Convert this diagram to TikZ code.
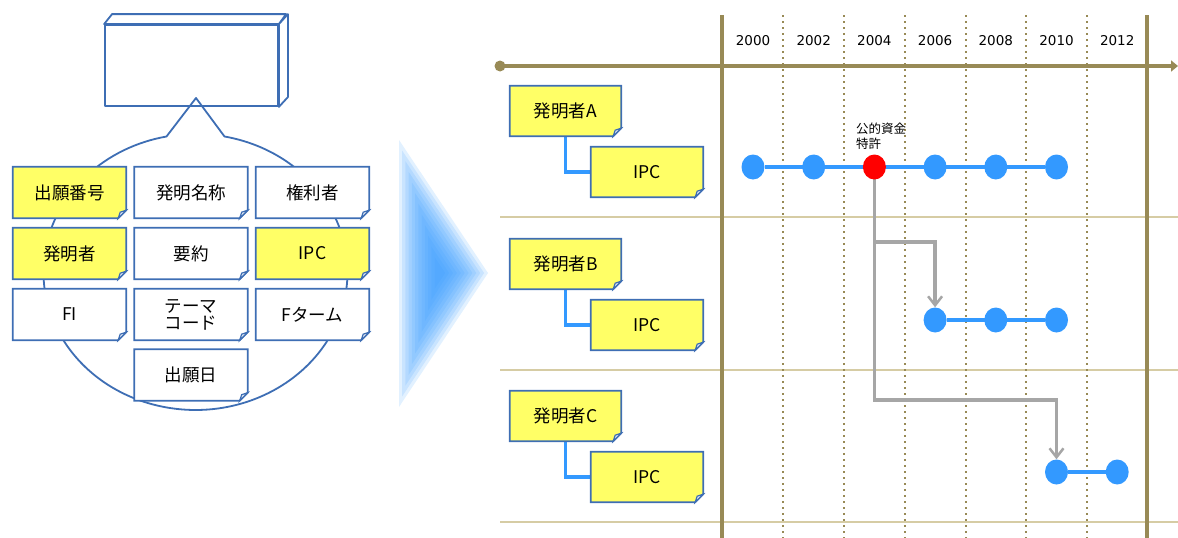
\documentclass[tikz,border=0pt]{standalone}
\usepackage{fontspec}
\setmainfont{Noto Sans CJK JP}
\newfontfamily\yearfont{DejaVu Sans}
\usetikzlibrary{arrows.meta,shapes.geometric,calc}
\pgfdeclarelayer{bg}
\pgfdeclarelayer{cardbg}
\pgfsetlayers{bg,cardbg,main}
\definecolor{cardblue}{RGB}{62,110,180}
\definecolor{noteyellow}{RGB}{255,255,102}
\definecolor{tlblue}{RGB}{51,153,255}
\definecolor{olivec}{RGB}{152,138,86}
\definecolor{khakic}{RGB}{214,204,164}
\definecolor{conngray}{RGB}{166,166,166}
\newcommand\notecard[5]{%
  \node[#4] (#1) at (#2) {#5};
  \begin{pgfonlayer}{cardbg}
    \path[cardline, fill=#3] (#1.south west) -- (#1.north west) -- (#1.north east)
      -- ([yshift=8pt]#1.south east) -- ([xshift=-8pt]#1.south east) -- cycle;
    \path[cardline, fill=cardblue!15, line width=1.2pt] ([yshift=8pt]#1.south east)
      -- ([xshift=-6pt,yshift=6pt]#1.south east) -- ([xshift=-8pt]#1.south east) -- cycle;
  \end{pgfonlayer}}
\begin{document}
\begin{tikzpicture}[x=1pt,y=-1pt,
  card/.style={minimum width=113pt, minimum height=51pt, inner sep=0pt,
    font=\fontsize{17.5}{18}\selectfont, text=black, align=center},
  rcard/.style={card, minimum width=111pt, minimum height=50pt},
  cardline/.style={draw=cardblue, line width=1.8pt, line join=miter},
  boxline/.style={draw=cardblue, line width=1.8pt, line join=round},
  yearlbl/.style={font=\yearfont\fontsize{13.5}{16}\selectfont, inner sep=0pt},
  dotn/.style={ellipse, minimum width=23pt, minimum height=25pt, inner sep=0pt, fill=tlblue},
  reddot/.style={dotn, fill=red},
  tl/.style={tlblue, line width=3.8pt},
  gconn/.style={conngray, line width=3.5pt, -{Straight Barb[length=9pt,width=14pt,line width=2.5pt]}},
  gridv/.style={olivec, line width=3.5pt},
  gridd/.style={olivec, line width=2pt, dash pattern=on 1.5pt off 4.5pt},
  gridh/.style={khakic, line width=2.5pt}
]
\useasboundingbox (0,0) rectangle (1178,538);

% ---------- left: database box and callout ----------
\node[boxline, minimum width=173pt, minimum height=81pt, inner sep=0pt] (db) at (191.5,65.5) {};
\draw[boxline, fill=white] (db.north west) -- ++(8,-10) -- ++(174,0) -- (db.north east) -- cycle;
\draw[boxline, fill=white] (db.north east) -- ++(9,-10) -- ++(0,83) -- (db.south east) -- cycle;
\begin{pgfonlayer}{bg}
  \draw[boxline, fill=white] (166.5,136.5) -- (196,98) -- (224.5,136.5)
    arc[start angle=79, end angle=-259, x radius=152pt, y radius=138pt] -- cycle;
\end{pgfonlayer}

\notecard{c11}{69.5,192.5}{noteyellow}{card}{出願番号}
\notecard{c12}{191,192.5}{white}{card}{発明名称}
\notecard{c13}{312.5,192.5}{white}{card}{権利者}
\notecard{c21}{69.5,253.5}{noteyellow}{card}{発明者}
\notecard{c22}{191,253.5}{white}{card}{要約}
\notecard{c23}{312.5,253.5}{noteyellow}{card}{IPC}
\notecard{c31}{69.5,314.5}{white}{card}{FI}
\notecard{c32}{191,314.5}{white}{card, font=\fontsize{17.5}{17}\selectfont}{テーマ\\コード}
\notecard{c33}{312.5,314.5}{white}{card}{Fターム}
\notecard{c42}{191,375}{white}{card}{出願日}

% ---------- big blue arrow ----------
\coordinate (ic) at (439.5,273);
\foreach \s in {1.00,0.92,0.84,0.76,0.68,0.60,0.52,0.44,0.36,0.28,0.20,0.12}
  \fill[tlblue, opacity=0.14] ($(ic)!\s!(399,140)$) -- ($(ic)!\s!(488,273)$) -- ($(ic)!\s!(399,407)$) -- cycle;

% ---------- right: timeline grid ----------
\begin{pgfonlayer}{bg}
  \foreach \yy in {217,370,522} \draw[gridh] (500,\yy) -- (1178,\yy);
  \foreach \xx in {783.4,844.1,904.8,965.5,1026.2,1086.9} \draw[gridd] (\xx,15) -- (\xx,538);
  \draw[gridv] (722,15) -- (722,538);
  \draw[gridv] (1147,15) -- (1147,538);
\end{pgfonlayer}
\node[circle, fill=olivec, minimum size=11pt, inner sep=0pt] (ax0) at (500,66) {};
\coordinate (ax1) at (1178,66);
\begin{pgfonlayer}{bg}
  \draw[olivec, line width=4pt, -{Triangle[length=7pt,width=11pt]}] (ax0.center) -- (ax1);
\end{pgfonlayer}

\foreach \i/\yr in {0/2000,1/2002,2/2004,3/2006,4/2008,5/2010,6/2012}
  \node[yearlbl] (y\yr) at ({753+60.7*\i},41) {\yr};

% inventor cards
\notecard{nA}{565.5,111}{noteyellow}{rcard}{発明者A}
\notecard{iA}{647,172}{noteyellow}{rcard, minimum width=112pt}{IPC}
\notecard{nB}{565.5,264}{noteyellow}{rcard}{発明者B}
\notecard{iB}{647,325}{noteyellow}{rcard, minimum width=112pt}{IPC}
\notecard{nC}{565.5,416}{noteyellow}{rcard}{発明者C}
\notecard{iC}{647,477}{noteyellow}{rcard, minimum width=112pt}{IPC}

% dots
\node[dotn] (a1) at (753,167) {};
\node[dotn] (a2) at (813.7,167) {};
\node[reddot] (a3) at (874.4,167) {};
\node[dotn] (a4) at (935.1,167) {};
\node[dotn] (a5) at (995.8,167) {};
\node[dotn] (a6) at (1056.5,167) {};
\node[dotn] (b1) at (935.1,320) {};
\node[dotn] (b2) at (995.8,320) {};
\node[dotn] (b3) at (1056.5,320) {};
\node[dotn] (c1) at (1056.5,472) {};
\node[dotn] (c2) at (1117.2,472) {};

\node[anchor=north west, inner sep=0pt, align=left, font=\fontsize{12.5}{15}\selectfont] (lbl) at (856,123) {公的資金\\特許};

\coordinate (br) at (874.4,242);
\begin{pgfonlayer}{bg}
  \draw[tl] (nA.south) |- (iA.west);
  \draw[tl] (nB.south) |- (iB.west);
  \draw[tl] (nC.south) |- (iC.west);
  \draw[tl] (a1) -- (a6);
  \draw[tl] (b1) -- (b3);
  \draw[tl] (c1) -- (c2);
  \draw[gconn] (a3.center) -- ++(0,233) -| (c1.north);
  \draw[gconn] (br) -| (b1.north);
\end{pgfonlayer}
\end{tikzpicture}
\end{document}
